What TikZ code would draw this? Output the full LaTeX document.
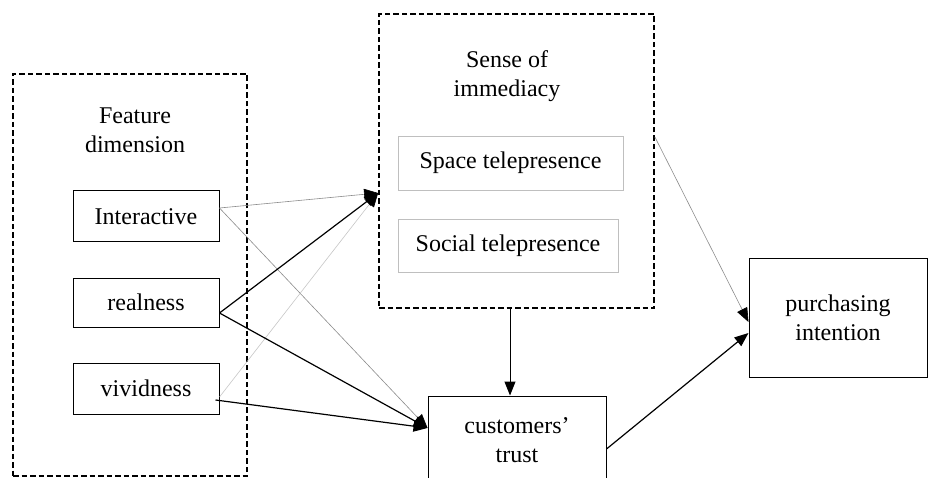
\documentclass[tikz,border=0pt]{standalone}
\usepackage{fontspec}
\setmainfont{Liberation Serif}
\usetikzlibrary{arrows.meta}
\begin{document}
\begin{tikzpicture}[x=1pt,y=-1pt,
  txt/.style={font=\fontsize{24}{29}\selectfont, align=center, inner sep=0pt},
  dashbox/.style={draw=black, line width=1.8pt, dash pattern=on 5.5pt off 3pt, inner sep=0pt, rectangle},
  plainbox/.style={draw=black, line width=1pt, inner sep=0pt, rectangle, font=\fontsize{24}{29}\selectfont, align=center},
  graybox/.style={draw=black!25, line width=0.8pt, inner sep=0pt, rectangle, font=\fontsize{24}{29}\selectfont, align=center},
  tip/.style={-{Triangle[length=14pt,width=11pt,color=black]}},
  blk/.style={tip, draw=black, line width=1.2pt},
  gry/.style={tip, draw=black!45, line width=0.6pt},
  lgry/.style={tip, draw=black!22, line width=0.6pt}]
\useasboundingbox (0,0) rectangle (928,478);
\clip (0,0) rectangle (928,478);
\fill[white] (0,0) rectangle (928,478);

% left dashed group
\node[dashbox, minimum width=234pt, minimum height=402pt] (feat) at (130,275) {};
\node[txt] (feattxt) at (135,130) {Feature\\dimension};
\node[plainbox, minimum width=146pt, minimum height=51pt] (inter) at (146,216.5) {Interactive};
\node[plainbox, minimum width=146pt, minimum height=49pt] (real) at (146,302.5) {realness};
\node[plainbox, minimum width=146pt, minimum height=51pt] (vivid) at (146,388.5) {vividness};

% middle dashed group
\node[dashbox, minimum width=275pt, minimum height=294pt] (sense) at (516.5,161) {};
\node[txt] (sensetxt) at (507,76) {Sense of\\immediacy};
\node[graybox, minimum width=225pt, minimum height=54pt] (space) at (510.5,163) {Space telepresence};
\node[graybox, minimum width=220pt, minimum height=53pt] (social) at (508,245.5) {Social telepresence};

% trust and purchasing
\node[plainbox, minimum width=178pt, minimum height=88pt] (trust) at (517,440) {customers’\\trust};
\node[plainbox, minimum width=178pt, minimum height=119pt] (purch) at (838,317.5) {purchasing\\intention};

% arrow targets
\coordinate (sin) at ([yshift=-32pt]sense.west);
\coordinate (tin) at ([yshift=12pt]trust.west);
\coordinate (pin1) at ([yshift=-4.5pt]purch.west);
\coordinate (pin2) at ([yshift=-15.5pt]purch.west);

% connectors
\draw[gry] ([yshift=8.5pt]inter.east) -- (sin);
\draw[gry] ([yshift=8.5pt]inter.east) -- (tin);
\draw[lgry] ([yshift=-8.5pt]vivid.east) -- (sin);
\draw[blk] ([yshift=-10.5pt]real.east) -- (sin);
\draw[blk] ([yshift=-10.5pt]real.east) -- (tin);
\draw[blk] ([xshift=-4pt,yshift=-11.5pt]vivid.east) -- (tin);
\draw[tip, draw=black, line width=1pt] ([xshift=-6.5pt]sense.south) -- ([xshift=-7pt]trust.north);
\draw[gry] ([yshift=24pt]sense.east) -- (pin1);
\draw[blk] ([yshift=-9pt]trust.east) -- (pin2);
\end{tikzpicture}
\end{document}
